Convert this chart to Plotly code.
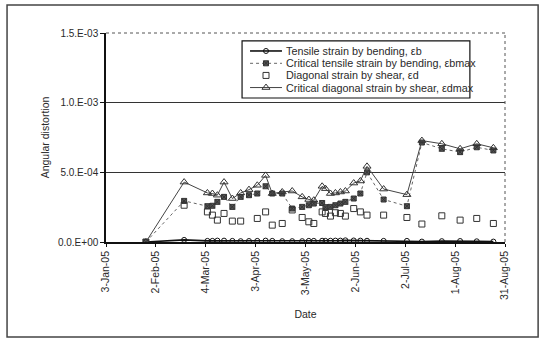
import plotly.graph_objects as go

# Measurement dates
dates = [
    "2005-01-27", "2005-02-19", "2005-03-05", "2005-03-08", "2005-03-11",
    "2005-03-15", "2005-03-20", "2005-03-25", "2005-03-30", "2005-04-04",
    "2005-04-09", "2005-04-13", "2005-04-19", "2005-04-25", "2005-05-01",
    "2005-05-05", "2005-05-08", "2005-05-13", "2005-05-15", "2005-05-18",
    "2005-05-21", "2005-05-24", "2005-05-27", "2005-06-01", "2005-06-05",
    "2005-06-09", "2005-06-19", "2005-07-03", "2005-07-12", "2005-07-24",
    "2005-08-04", "2005-08-14", "2005-08-24",
]

# Tensile strain by bending
eps_b = [
    0.0, 1.5e-5, 0.8e-5, 0.8e-5, 1.0e-5, 1.0e-5, 0.8e-5, 0.6e-5, 0.7e-5, 0.8e-5,
    1.0e-5, 0.8e-5, 0.6e-5, 0.6e-5, 0.6e-5, 0.8e-5, 0.8e-5, 0.9e-5, 0.8e-5, 0.9e-5,
    1.0e-5, 1.0e-5, 1.2e-5, 1.1e-5, 1.0e-5, 0.9e-5, 0.8e-5, 0.8e-5, 0.3e-5, 0.6e-5,
    0.7e-5, 0.5e-5, 0.3e-5,
]

# Critical tensile strain by bending
eps_bmax = [
    0.0, 2.95e-4, 2.57e-4, 2.6e-4, 2.88e-4, 3.24e-4, 2.52e-4, 3.24e-4, 3.36e-4, 3.48e-4,
    4.0e-4, 3.48e-4, 3.48e-4, 2.4e-4, 2.52e-4, 2.64e-4, 2.76e-4, 2.8e-4, 2.5e-4, 2.52e-4,
    2.64e-4, 2.76e-4, 2.88e-4, 3.12e-4, 3.48e-4, 5.0e-4, 3.05e-4, 2.57e-4, 7.14e-4, 6.69e-4,
    6.45e-4, 6.8e-4, 6.57e-4,
]

# Diagonal strain by shear
eps_d = [
    0.0, 2.64e-4, 2.16e-4, 1.93e-4, 1.57e-4, 2.05e-4, 1.5e-4, 1.5e-4, None, 1.69e-4,
    2.16e-4, 1.21e-4, 1.33e-4, 2.3e-4, 1.76e-4, 1.45e-4, 1.33e-4, 2.16e-4, 2.05e-4, 1.86e-4,
    2.1e-4, 2.05e-4, 1.86e-4, 2.4e-4, 2.16e-4, 1.93e-4, 1.93e-4, 1.76e-4, 1.29e-4, 1.88e-4,
    1.57e-4, 1.69e-4, 1.33e-4,
]

# Critical diagonal strain by shear
eps_dmax = [
    0.0, 4.3e-4, 3.52e-4, 3.48e-4, 3.36e-4, 4.3e-4, 3.12e-4, 3.52e-4, 3.76e-4, 4.07e-4,
    4.78e-4, 3.48e-4, 3.59e-4, 3.66e-4, 3.24e-4, 3.05e-4, 3.0e-4, 4.0e-4, 3.83e-4, 3.48e-4,
    3.52e-4, 3.59e-4, 3.66e-4, 4.23e-4, 4.38e-4, 5.43e-4, 3.8e-4, 3.4e-4, 7.28e-4, 7.05e-4,
    6.69e-4, 7.05e-4, 6.76e-4,
]

series_names = [
    "Tensile strain by bending, εb",
    "Critical tensile strain by bending, εbmax",
    "Diagonal strain by shear, εd",
    "Critical diagonal strain by shear, εdmax",
]

x_ticks = ["2005-01-03", "2005-02-02", "2005-03-04", "2005-04-03", "2005-05-03",
           "2005-06-02", "2005-07-02", "2005-08-01", "2005-08-31"]
x_labels = ["3-Jan-05", "2-Feb-05", "4-Mar-05", "3-Apr-05", "3-May-05",
            "2-Jun-05", "2-Jul-05", "1-Aug-05", "31-Aug-05"]
y_ticks = [0.0, 5e-4, 1e-3, 1.5e-3]
y_labels = ["0.0.E+00", "5.0.E-04", "1.0.E-03", "1.5.E-03"]

FONT = "Liberation Sans, Arial, sans-serif"
INK = "#2a2a2a"

# per-series styling: (mode, line style, marker style)
styles = [
    ("lines+markers", dict(color="#111111", width=1.6),
     dict(symbol="circle-open", size=5, color="#111111", line=dict(width=1))),
    ("lines+markers", dict(color="#666666", width=1, dash="dot"),
     dict(symbol="square-x", size=5, color="#555555", line=dict(width=1, color="#333333"))),
    ("markers", dict(color="#333333", width=1),
     dict(symbol="square-open", size=6, color="#333333", line=dict(width=1))),
    ("lines+markers", dict(color="#444444", width=1),
     dict(symbol="triangle-up-open", size=7, color="#333333", line=dict(width=1))),
]
all_series = [eps_b, eps_bmax, eps_d, eps_dmax]

fig = go.Figure()

for name, ys, (mode, line, marker) in zip(series_names, all_series, styles):
    fig.add_trace(go.Scatter(x=dates, y=ys, name=name, mode=mode,
                             line=line, marker=marker, showlegend=False))

# invisible trace on a twin axis that only carries the gridlines
fig.add_trace(go.Scatter(x=[dates[0]], y=[0], yaxis="y2", mode="markers",
                         marker=dict(opacity=0), showlegend=False, hoverinfo="skip"))

# Compact legend drawn on a unit overlay axis pair spanning the plot area
LEG_BOX = (0.341, 0.912, 0.689, 0.962)          # x0, x1, y0, y1
LEG_ROWS = [0.914, 0.855, 0.797, 0.739]
SAMPLE_X = (0.361, 0.441)
TEXT_X = 0.445

annotations = []
for name, row, (mode, line, marker) in zip(series_names, LEG_ROWS, styles):
    if "lines" in mode:
        fig.add_trace(go.Scatter(x=list(SAMPLE_X), y=[row, row], xaxis="x3", yaxis="y3",
                                 mode="lines", line=line, showlegend=False, hoverinfo="skip"))
    fig.add_trace(go.Scatter(x=[sum(SAMPLE_X) / 2], y=[row], xaxis="x3", yaxis="y3",
                             mode="markers", marker=marker, showlegend=False, hoverinfo="skip"))
    annotations.append(dict(x=TEXT_X, y=row, xref="paper", yref="paper", text=name,
                            showarrow=False, xanchor="left", yanchor="middle",
                            font=dict(family=FONT, size=10.8, color=INK)))

fig.update_layout(
    width=541, height=341,
    margin=dict(l=106, r=36, t=33, b=99),
    paper_bgcolor="white", plot_bgcolor="white",
    font=dict(family=FONT, size=10, color=INK),
    showlegend=False,
    annotations=annotations,
    xaxis=dict(
        type="date", range=["2005-01-03", "2005-08-31"],
        tickmode="array", tickvals=x_ticks, ticktext=x_labels,
        tickangle=-90, showgrid=False, zeroline=False,
        showline=True, linecolor="#111111", linewidth=1.5,
        ticks="outside", ticklen=3, tickcolor="#111111",
        tickfont=dict(size=10.5, color=INK),
        title=dict(text="Date", font=dict(size=10.5, color=INK), standoff=12),
    ),
    yaxis=dict(
        range=[0, 1.5e-3], tickmode="array", tickvals=y_ticks, ticktext=y_labels,
        showgrid=False, zeroline=False,
        showline=True, linecolor="#111111", linewidth=1.5,
        ticks="outside", ticklen=4, tickcolor="#111111",
        tickfont=dict(size=10, color=INK),
        title=dict(text="Angular distortion", font=dict(size=10.5, color=INK), standoff=6),
    ),
    yaxis2=dict(
        overlaying="y", range=[0, 1.5e-3], tickmode="array", tickvals=[5e-4, 1e-3],
        showgrid=True, gridcolor="#333333", gridwidth=1.2,
        showticklabels=False, zeroline=False, showline=False,
    ),
    xaxis3=dict(overlaying="x", range=[0, 1], visible=False, anchor="y3"),
    yaxis3=dict(overlaying="y", range=[0, 1], visible=False, anchor="x3"),
    shapes=[
        # dotted top and right edges of the plot area
        dict(type="line", xref="paper", yref="paper", x0=0, x1=1, y0=1, y1=1,
             line=dict(color="#555555", width=1, dash="dot")),
        dict(type="line", xref="paper", yref="paper", x0=1, x1=1, y0=0, y1=1,
             line=dict(color="#555555", width=1, dash="dot")),
        # legend frame
        dict(type="rect", xref="paper", yref="paper",
             x0=LEG_BOX[0], x1=LEG_BOX[1], y0=LEG_BOX[2], y1=LEG_BOX[3],
             line=dict(color="#111111", width=1.2)),
        # outer chart frame
        dict(type="rect", xref="paper", yref="paper",
             x0=-0.248, x1=1.083, y0=-0.455, y1=1.134,
             line=dict(color="#444444", width=1.5)),
    ],
)

fig.write_html("out.html")
